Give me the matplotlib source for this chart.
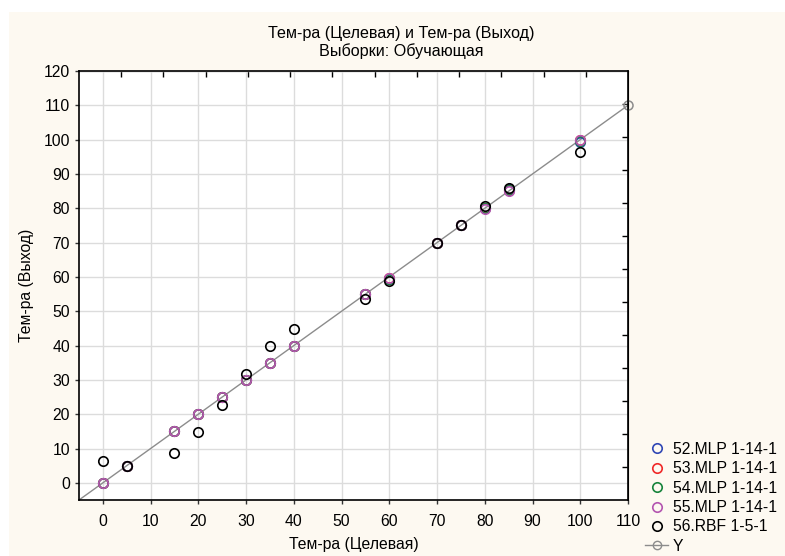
import numpy as np
import matplotlib.pyplot as plt
from matplotlib.patches import Rectangle
from matplotlib.ticker import FixedLocator, NullFormatter

plt.rcParams['font.family'] = ['Liberation Sans', 'DejaVu Sans']

# целевые значения
target = [0, 5, 15, 20, 25, 30, 35, 40, 55, 60, 70, 75, 80, 85, 100]

# выходы сетей
mlp52 = [0, 5, 15, 20, 25, 30, 35, 40, 55, 59.4, 70, 75, 80.2, 85.6, 99.2]
mlp53 = [0, 5, 15, 20, 25, 30, 35, 40, 55, 59.6, 70, 75, 80.0, 85.3, 99.8]
mlp54 = [0, 5, 15, 20, 25, 30, 35, 40, 55, 59.5, 70, 75, 80.1, 85.4, 99.5]
mlp55 = [0, 5, 15, 20, 25, 30, 35, 40, 55, 59.8, 70, 75, 79.9, 85.1, 100.0]
rbf56 = [6.3, 4.8, 8.8, 14.7, 22.6, 31.7, 40.0, 44.9, 53.5, 58.9, 69.9, 75.1, 80.7, 86.0, 96.5]

y_line = [-5, 110]
y_marks = [110]

series = [
    ("52.MLP 1-14-1", mlp52, '#2f47b5'),
    ("53.MLP 1-14-1", mlp53, '#f02828'),
    ("54.MLP 1-14-1", mlp54, '#17843c'),
    ("55.MLP 1-14-1", mlp55, '#b455b0'),
    ("56.RBF 1-5-1", rbf56, '#000000'),
]

FS = 11.3

fig = plt.figure(figsize=(7.85, 5.56), dpi=100)
fig.patch.set_facecolor('white')
fig.patches.append(Rectangle((9 / 785, 0), 1, (556 - 12) / 556, transform=fig.transFigure,
                             facecolor='#fdf9f1', edgecolor='none', zorder=-10))

ax = fig.add_axes([79 / 785, 1 - 500 / 556, (628 - 79) / 785, (500 - 71) / 556])
ax.set_facecolor('white')

# линия Y
ax.plot(y_line, y_line, color='#8c8c8c', lw=1, zorder=2)
ax.plot(y_marks, y_marks, 'o', color='#8c8c8c', mfc='none', ms=6.5, mew=1.1, zorder=2, clip_on=False)

handles = []
for name, vals, col in series:
    h, = ax.plot(target, vals, 'o', mfc='none', mec=col, ms=6.8, mew=1.2, zorder=3, label=name)
    handles.append(h)

hy, = ax.plot([], [], '-o', color='#8c8c8c', mfc='none', ms=6, mew=1, lw=1, label='Y')
handles.append(hy)

ax.set_xlim(-5, 110)
ax.set_ylim(-5, 120)
ax.set_xticks(np.arange(0, 111, 10))
ax.set_yticks(np.arange(0, 121, 10))
ax.grid(True, color='#dcdcdc', lw=1)
ax.set_axisbelow(True)
ax.tick_params(labelsize=FS, direction='out', length=3, width=1, color='#333333')
ax.tick_params(axis='x', pad=7)
ax.tick_params(axis='y', pad=3.5)
for s in ax.spines.values():
    s.set_color('black')
    s.set_linewidth(1.2)

# внутренние засечки сверху и справа
ax2 = ax.secondary_xaxis('top')
ax2.xaxis.set_major_locator(FixedLocator(np.linspace(-5, 110, 14)[1:-1]))
ax2.xaxis.set_major_formatter(NullFormatter())
ax2.tick_params(direction='in', length=4, width=1)
ax3 = ax.secondary_yaxis('right')
ax3.yaxis.set_major_locator(FixedLocator(np.linspace(-5, 120, 14)[1:-1]))
ax3.yaxis.set_major_formatter(NullFormatter())
ax3.tick_params(direction='in', length=4, width=1)

ax.set_xlabel("Тем-ра (Целевая)", fontsize=FS, labelpad=6)
ax.set_ylabel("Тем-ра (Выход)", fontsize=FS, labelpad=7)

# заголовок по центру всего поля
fig.text(401 / 785, 1 - 59 / 556, "Тем-ра (Целевая) и Тем-ра (Выход)\nВыборки: Обучающая",
         ha='center', va='bottom', fontsize=FS + 0.3, linespacing=1.15)

fig.legend(handles=handles, loc='upper left', bbox_to_anchor=(637 / 785, 1 - 434 / 556),
           frameon=False, fontsize=FS, handlelength=1.5, handletextpad=0.3,
           labelspacing=0.28, borderpad=0)

plt.savefig("out.png", dpi=100, facecolor=fig.get_facecolor())
